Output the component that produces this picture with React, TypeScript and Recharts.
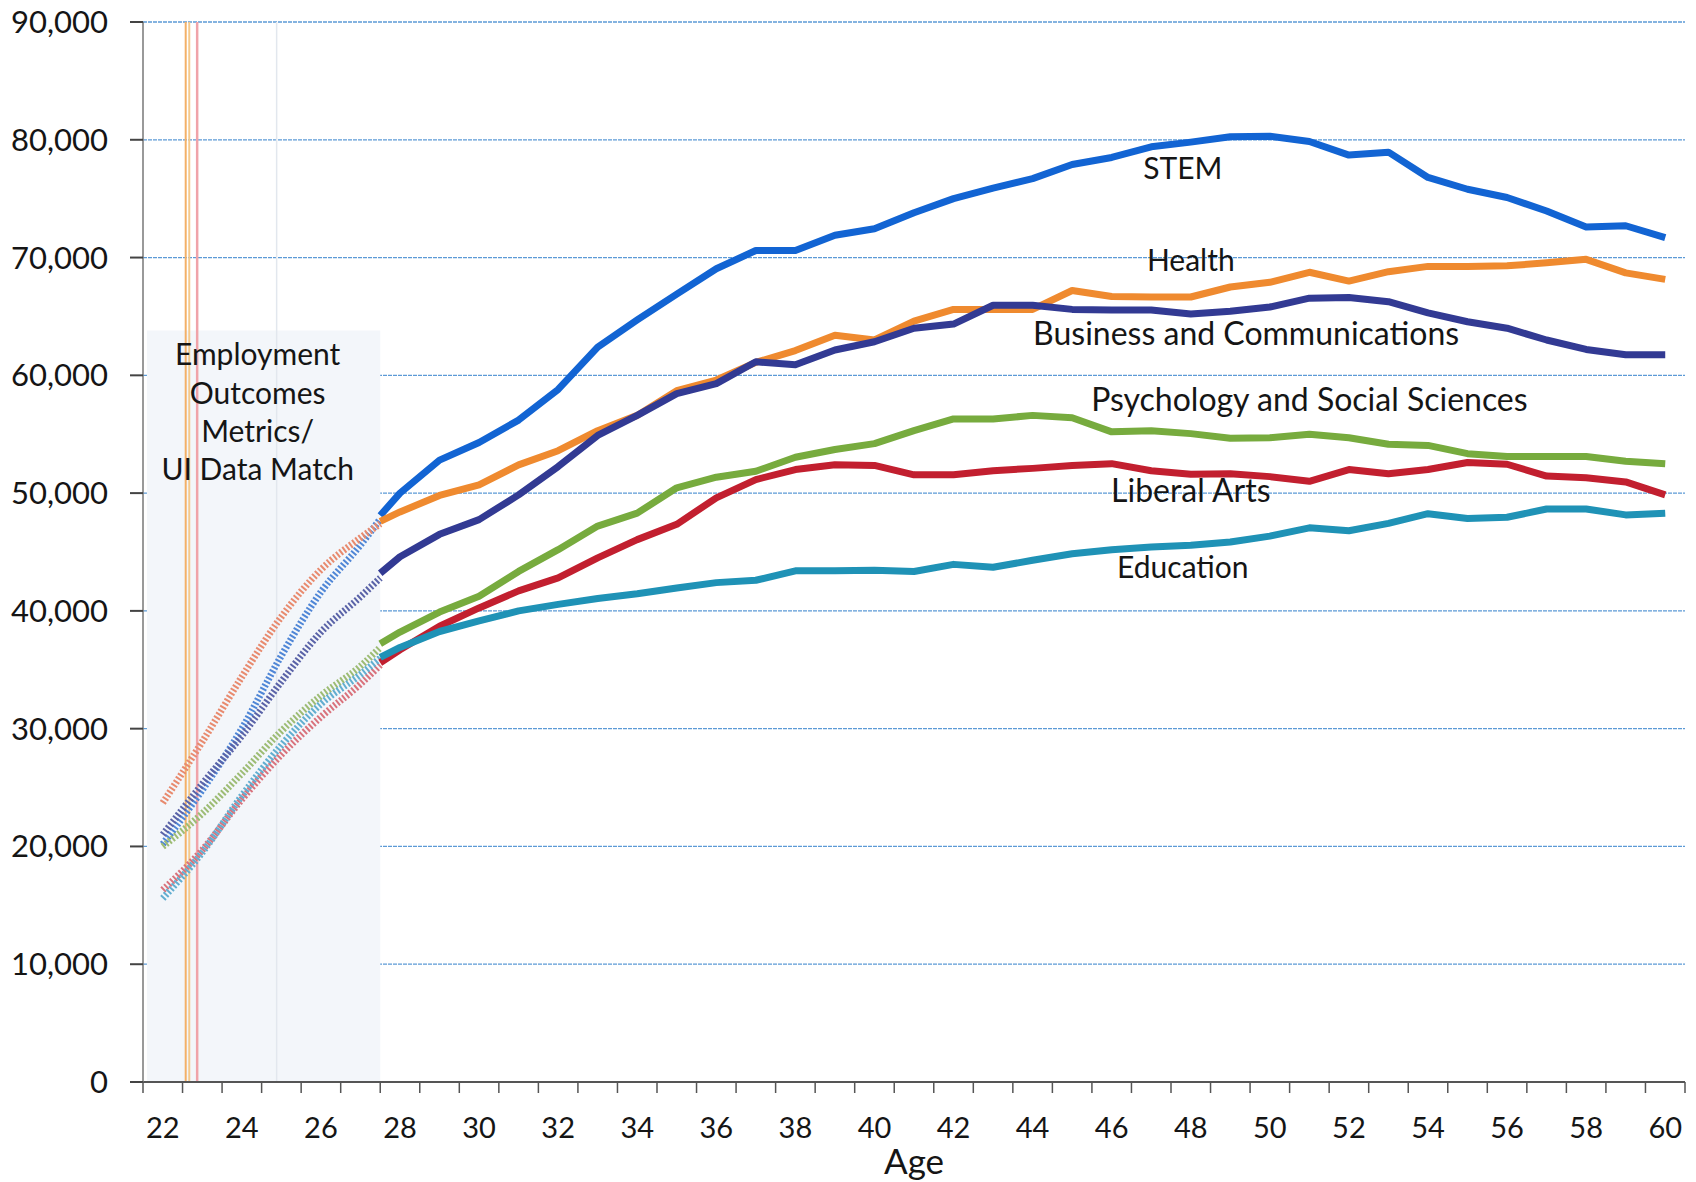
import * as React from "react"
import {
  LineChart,
  Line,
  XAxis,
  YAxis,
  CartesianGrid,
  ReferenceArea,
  ReferenceLine,
  ReferenceDot,
} from "recharts"

// ages shown as categories on the x axis
const ageCategories = [
  22, 23, 24, 25, 26, 27, 28, 29, 30, 31, 32, 33, 34, 35, 36, 37, 38, 39, 40,
  41, 42, 43, 44, 45, 46, 47, 48, 49, 50, 51, 52, 53, 54, 55, 56, 57, 58, 59, 60,
]
const ageLabels = [22, 24, 26, 28, 30, 32, 34, 36, 38, 40, 42, 44, 46, 48, 50, 52, 54, 56, 58, 60]
const yTicks = [0, 10000, 20000, 30000, 40000, 50000, 60000, 70000, 80000, 90000]

// solid part (visible right of the shaded box)
const ages = [
  27.5, 28, 29, 30, 31, 32, 33, 34, 35, 36, 37, 38, 39, 40, 41, 42, 43, 44, 45,
  46, 47, 48, 49, 50, 51, 52, 53, 54, 55, 56, 57, 58, 59, 60,
]
const stem = [
  48100, 50000, 52800, 54300, 56200, 58800, 62400, 64700, 66900, 69050, 70600,
  70600, 71900, 72450, 73800, 75000, 75900, 76700, 77900, 78500, 79400, 79800,
  80250, 80300, 79850, 78700, 78950, 76800, 75800, 75100, 73950, 72600, 72700, 71700,
]
const health = [
  47600, 48400, 49800, 50700, 52400, 53600, 55300, 56600, 58700, 59600, 61100,
  62100, 63400, 63000, 64600, 65600, 65600, 65600, 67200, 66700, 66650, 66650,
  67500, 67900, 68750, 68000, 68800, 69250, 69250, 69300, 69550, 69850, 68700, 68150,
]
const business = [
  43200, 44600, 46500, 47750, 49850, 52250, 54900, 56600, 58450, 59300, 61150,
  60900, 62150, 62850, 64000, 64350, 65950, 65950, 65600, 65550, 65550, 65200,
  65450, 65800, 66550, 66600, 66250, 65300, 64550, 64000, 63000, 62200, 61750, 61750,
]
const psychology = [
  37200, 38200, 39900, 41250, 43350, 45200, 47200, 48300, 50450, 51350, 51850,
  53050, 53700, 54200, 55300, 56300, 56300, 56600, 56400, 55200, 55300, 55050,
  54650, 54700, 55000, 54700, 54150, 54050, 53350, 53100, 53100, 53100, 52700, 52500,
]
const liberalArts = [
  35600, 36700, 38700, 40250, 41700, 42800, 44500, 46050, 47350, 49600, 51150,
  52000, 52400, 52350, 51550, 51550, 51900, 52100, 52350, 52500, 51900, 51600,
  51650, 51400, 51000, 52000, 51650, 52000, 52600, 52450, 51450, 51300, 50950, 49850,
]
const education = [
  36050, 36900, 38250, 39150, 40000, 40550, 41050, 41450, 41950, 42400, 42600,
  43400, 43400, 43450, 43350, 43950, 43700, 44300, 44850, 45200, 45420, 45570,
  45850, 46350, 47050, 46800, 47430, 48250, 47850, 47950, 48650, 48650, 48150, 48300,
]

// dotted part inside the "UI Data Match" box
const earlyAges = [22, 23, 24, 25, 26, 27, 27.5]
const stemEarly = [20200, 24800, 30000, 36200, 41600, 45600, 47800]
const healthEarly = [23700, 28900, 34400, 39500, 43500, 46200, 47400]
const businessEarly = [21000, 25300, 29400, 34000, 38200, 41200, 42800]
const psychologyEarly = [20000, 22800, 26200, 29800, 32800, 35300, 36900]
const liberalArtsEarly = [16300, 19700, 24000, 27800, 31000, 33800, 35400]
const educationEarly = [15600, 19500, 24300, 28600, 32100, 34600, 36000]

const boxLines = ["Employment", "Outcomes", "Metrics/", "UI Data Match"]
const boxLineValues = [61500, 58200, 55000, 51800]

const solidRows = ages.map((age, i) => ({
  age,
  stem: stem[i],
  health: health[i],
  business: business[i],
  psychology: psychology[i],
  liberalArts: liberalArts[i],
  education: education[i],
}))

const earlyRows = earlyAges.map((age, i) => ({
  age,
  stem: stemEarly[i],
  health: healthEarly[i],
  business: businessEarly[i],
  psychology: psychologyEarly[i],
  liberalArts: liberalArtsEarly[i],
  education: educationEarly[i],
}))

const series = [
  { key: "stem", name: "STEM", color: "#1264d3", early: "#4f86d6", at: [47.8, 77300] },
  { key: "health", name: "Health", color: "#ef8a2f", early: "#e88a6e", at: [48, 69500] },
  { key: "business", name: "Business and Communications", color: "#323a93", early: "#5a63a8", at: [49.4, 63300] },
  { key: "psychology", name: "Psychology and Social Sciences", color: "#77ab3e", early: "#9dbc74", at: [51, 57700] },
  { key: "liberalArts", name: "Liberal Arts", color: "#c21f2f", early: "#d9727c", at: [48, 49900] },
  { key: "education", name: "Education", color: "#1f92b6", early: "#62aed0", at: [47.8, 43400] },
]

const ticks = ageCategories.flatMap((a) => [a - 0.5, a]).concat(60.5)
const FONT = "Lato, 'Open Sans', sans-serif"

function AgeTick(props: any) {
  const { x, y, payload } = props
  const v = payload.value
  const boundary = !Number.isInteger(v)
  return (
    <g>
      {boundary && <line x1={x} x2={x} y1={y} y2={y + 11} stroke="#555" strokeWidth={1.5} />}
      {!boundary && ageLabels.includes(v) && (
        <text x={x} y={y + 49} textAnchor="middle" dominantBaseline="middle" fontSize={29} fontFamily={FONT} fill="#151515">
          {v}
        </text>
      )}
    </g>
  )
}

function TextAt(text: string, size: number) {
  return (p: any) => (
    <text x={p.cx} y={p.cy} textAnchor="middle" dominantBaseline="middle" fontSize={size} fontFamily={FONT} fill="#151515">
      {text}
    </text>
  )
}

export default function App() {
  return (
    <div style={{ position: "absolute", left: 0, top: 0, background: "#fff" }}>
      <LineChart width={1696} height={1182} margin={{ top: 22, right: 11, left: 0, bottom: 0 }}>
        <ReferenceArea x1={21.6} x2={27.5} y1={0} y2={63800} fill="#f3f6fa" fillOpacity={1} stroke="none" />
        <CartesianGrid vertical={false} stroke="#5c9ad6" strokeWidth={1.3} strokeDasharray="4 1" />
        <ReferenceLine x={24.88} stroke="#e2e7ee" strokeWidth={1.5} />
        <ReferenceLine x={22.58} stroke="#f3b067" strokeWidth={2} />
        <ReferenceLine x={22.67} stroke="#f5c98c" strokeWidth={2} />
        <ReferenceLine x={22.87} stroke="#f0a3a9" strokeWidth={2.5} />
        <XAxis
          dataKey="age"
          type="number"
          domain={[21.5, 60.5]}
          ticks={ticks}
          interval={0}
          height={100}
          tickSize={0}
          tickMargin={0}
          tickLine={false}
          tick={<AgeTick />}
          axisLine={{ stroke: "#555", strokeWidth: 2 }}
          label={{ value: "Age", position: "insideBottom", offset: 8, fontSize: 35, fontFamily: FONT, fill: "#151515" }}
        />
        <YAxis
          type="number"
          domain={[0, 90000]}
          ticks={yTicks}
          width={143}
          tickSize={13}
          tickMargin={22}
          tickFormatter={(v: number) => v.toLocaleString("en-US")}
          tick={{ fontSize: 31, fontFamily: FONT, fill: "#151515" }}
          tickLine={{ stroke: "#444", strokeWidth: 2 }}
          axisLine={{ stroke: "#777", strokeWidth: 1.5 }}
        />
        {series.map((s) => (
          <Line
            key={s.key + "-early"}
            data={earlyRows}
            dataKey={s.key}
            type="monotone"
            stroke={s.early}
            strokeWidth={7}
            strokeDasharray="2 2"
            dot={false}
            activeDot={false}
            isAnimationActive={false}
          />
        ))}
        {series.map((s) => (
          <Line
            key={s.key}
            data={solidRows}
            dataKey={s.key}
            name={s.name}
            type="linear"
            stroke={s.color}
            strokeWidth={7}
            strokeLinejoin="round"
            dot={false}
            activeDot={false}
            isAnimationActive={false}
          />
        ))}
        {series.map((s) => (
          <ReferenceDot key={s.key + "-label"} x={s.at[0]} y={s.at[1]} r={0} shape={TextAt(s.name, s.name.length > 10 ? 32 : 30)} />
        ))}
        {boxLines.map((t, i) => (
          <ReferenceDot key={t} x={24.4} y={boxLineValues[i]} r={0} shape={TextAt(t, 30)} />
        ))}
      </LineChart>
    </div>
  )
}
